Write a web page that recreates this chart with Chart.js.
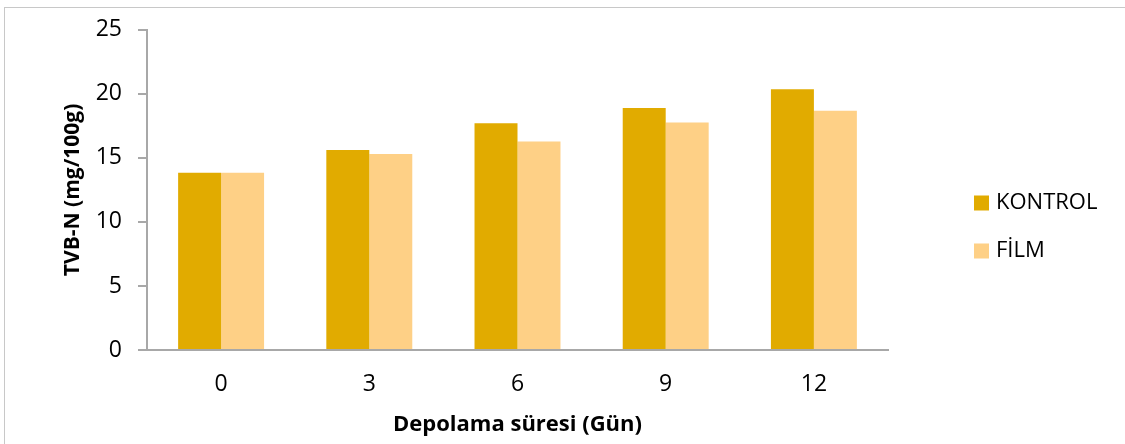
<!DOCTYPE html>
<html>
<head>
<meta charset="utf-8">
<script src="https://cdn.jsdelivr.net/npm/chart.js@4.4.1/dist/chart.umd.min.js"></script>
<style>
  html, body { margin: 0; padding: 0; background: #fff; overflow: hidden; }
  #wrap { position: relative; width: 1125px; height: 444px; }
  #frame { position: absolute; left: 4px; top: 7px; width: 1200px; height: 500px; border: 1px solid #c8c8c8; }
  canvas { position: absolute; left: 0; top: 0; }
</style>
</head>
<body>
<div id="wrap">
  <div id="frame"></div>
  <canvas id="chart" width="1125" height="444"></canvas>
</div>
<script>
const days = ['0', '3', '6', '9', '12'];
const kontrol = [13.84, 15.62, 17.70, 18.90, 20.35];
const film = [13.84, 15.31, 16.28, 17.76, 18.67];
const seriesNames = ['KONTROL', 'FİLM'];
const yTicks = [0, 5, 10, 15, 20, 25];

const fontFamily = "'Open Sans', Lato, sans-serif";
const axisGray = '#a8a8a8';

// draws the legend on the right, same as the original
const sideLegend = {
  id: 'sideLegend',
  afterDraw(chart) {
    const ctx = chart.ctx;
    ctx.save();
    ctx.font = '22px ' + fontFamily;
    ctx.textBaseline = 'middle';
    chart.data.datasets.forEach((ds, i) => {
      const y = 203 + i * 48;
      ctx.fillStyle = ds.backgroundColor;
      ctx.fillRect(974, y - 7.5, 15, 15);
      ctx.fillStyle = '#000';
      ctx.fillText(ds.label, 996, y);
    });
    ctx.restore();
  }
};

new Chart(document.getElementById('chart').getContext('2d'), {
  type: 'bar',
  data: {
    labels: days,
    datasets: [
      { label: seriesNames[0], data: kontrol, backgroundColor: '#e1ab00' },
      { label: seriesNames[1], data: film, backgroundColor: '#fed086' }
    ]
  },
  options: {
    responsive: false,
    animation: false,
    layout: { padding: { left: 0, right: 237, top: 29, bottom: 0 } },
    datasets: { bar: { categoryPercentage: 0.58, barPercentage: 1.0 } },
    plugins: { legend: { display: false }, tooltip: { enabled: false } },
    scales: {
      x: {
        grid: { display: false, drawTicks: false },
        border: { display: true, color: axisGray, width: 2 },
        ticks: { color: '#000', font: { family: fontFamily, size: 23 }, padding: 21 },
        title: {
          display: true,
          text: 'Depolama süresi (Gün)',
          color: '#000',
          font: { family: fontFamily, size: 22, weight: 'bold' },
          padding: { top: 0, bottom: 6 }
        },
        afterFit(scale) { scale.height = 94; }
      },
      y: {
        min: 0,
        max: 25,
        afterBuildTicks(scale) { scale.ticks = yTicks.map(v => ({ value: v })); },
        grid: { drawOnChartArea: false, drawTicks: true, tickLength: 9, color: axisGray, lineWidth: 2 },
        border: { display: true, color: axisGray, width: 2 },
        ticks: { color: '#000', font: { family: fontFamily, size: 23 }, padding: 16 },
        title: {
          display: true,
          text: 'TVB-N (mg/100g)',
          color: '#000',
          font: { family: fontFamily, size: 21, weight: 'bold' },
          padding: { top: 60, bottom: 0 }
        },
        afterFit(scale) { scale.width = 147; }
      }
    }
  },
  plugins: [sideLegend]
});
</script>
</body>
</html>
